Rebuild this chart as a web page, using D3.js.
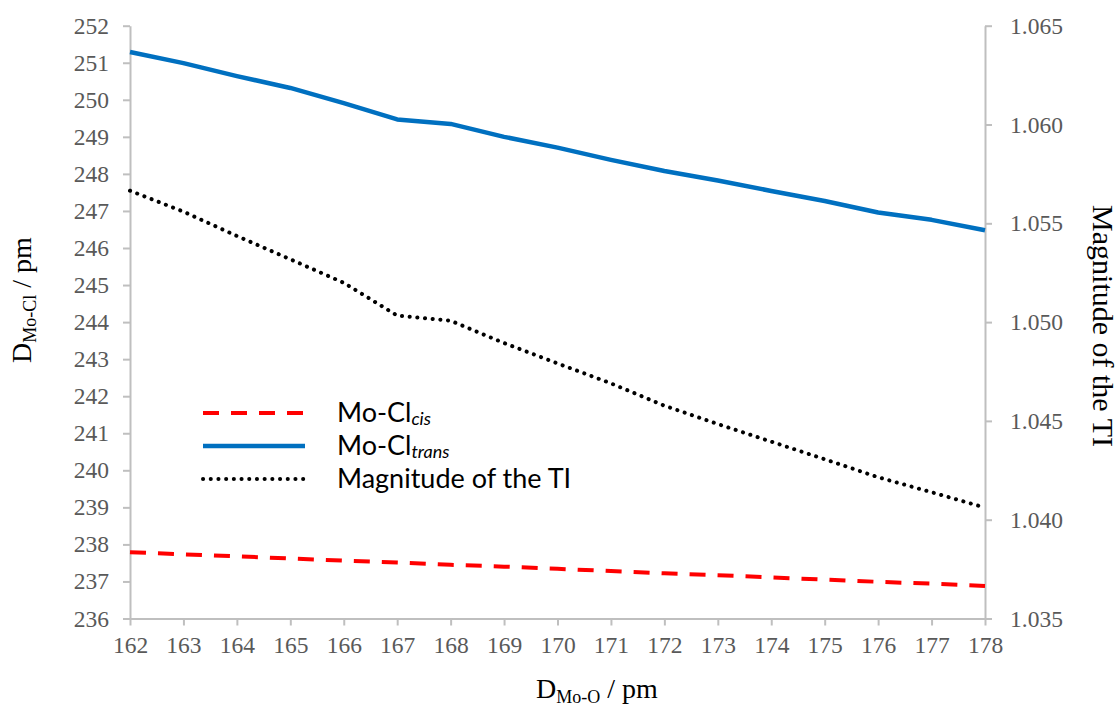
<!DOCTYPE html>
<html>
<head>
<meta charset="utf-8">
<script src="https://cdn.jsdelivr.net/npm/d3@7"></script>
<style>
  html, body { margin: 0; padding: 0; background: #fff; }
  svg { display: block; }
</style>
</head>
<body>
<svg id="chart" width="1120" height="711"></svg>
<script>
// ---- data ----
const distMoO = [162,163,164,165,166,167,168,169,170,171,172,173,174,175,176,177,178];
const moClCis = [237.79,237.73,237.68,237.62,237.56,237.51,237.45,237.40,237.34,237.28,237.22,237.17,237.11,237.05,236.99,236.94,236.88];
const moClTrans = [251.29,250.99,250.64,250.32,249.91,249.47,249.35,249.00,248.71,248.38,248.08,247.82,247.54,247.27,246.96,246.76,246.48];
const tiMagnitude = [1.05665,1.05559,1.05436,1.05318,1.05199,1.05033,1.05007,1.04894,1.04791,1.04690,1.04577,1.04484,1.04395,1.04306,1.04215,1.04139,1.04061];
const leftTicks = [236,237,238,239,240,241,242,243,244,245,246,247,248,249,250,251,252];
const rightTicks = [1.035,1.040,1.045,1.050,1.055,1.060,1.065];
const xTicks = distMoO;

// ---- layout ----
const svg = d3.select("#chart");
const L = 130, R = 985, T = 25.7, B = 618.5;
const x = d3.scaleLinear().domain([162,178]).range([L,R]);
const yL = d3.scaleLinear().domain([236,252]).range([B,T]);
const yR = d3.scaleLinear().domain([1.035,1.065]).range([B,T]);

const axisColor = "#bfbfbf";
const tickText = "#595959";
const serif = "'Liberation Serif','Times New Roman',serif";

function styleAxis(g) {
  g.selectAll("path").attr("stroke", axisColor).attr("stroke-width", 2);
  g.selectAll("line").attr("stroke", axisColor).attr("stroke-width", 2);
  g.selectAll("text").attr("fill", tickText).attr("font-family", serif).attr("font-size", 23.5);
}

svg.append("g").attr("transform", `translate(0,${B})`)
  .call(d3.axisBottom(x).tickValues(xTicks).tickFormat(d3.format("d")).tickSize(7).tickSizeOuter(0).tickPadding(11))
  .call(styleAxis);

svg.append("g").attr("transform", `translate(${L},0)`)
  .call(d3.axisLeft(yL).tickValues(leftTicks).tickFormat(d3.format("d")).tickSize(7).tickSizeOuter(0).tickPadding(14))
  .call(styleAxis);

svg.append("g").attr("transform", `translate(${R},0)`)
  .call(d3.axisRight(yR).tickValues(rightTicks).tickFormat(d3.format(".3f")).tickSize(7).tickSizeOuter(0).tickPadding(18))
  .call(styleAxis);

// ---- lines ----
const lineL = d3.line().x((d,i) => x(distMoO[i])).y(d => yL(d));
const lineR = d3.line().x((d,i) => x(distMoO[i])).y(d => yR(d));

svg.append("path").datum(moClCis).attr("d", lineL)
  .attr("fill","none").attr("stroke","#ff0000").attr("stroke-width",4)
  .attr("stroke-dasharray","16,12");

svg.append("path").datum(moClTrans).attr("d", lineL)
  .attr("fill","none").attr("stroke","#0070c0").attr("stroke-width",4.5)
  .attr("stroke-linejoin","round");

svg.append("path").datum(tiMagnitude).attr("d", lineR)
  .attr("fill","none").attr("stroke","#000").attr("stroke-width",4)
  .attr("stroke-linecap","round").attr("stroke-dasharray","0.1,7.6");

// ---- axis titles ----
function subTitle(g, main, sub, rest) {
  const t = g.append("text").attr("font-family", serif).attr("font-size", 28).attr("fill","#000")
    .attr("text-anchor","middle");
  t.append("tspan").text(main);
  t.append("tspan").attr("font-size", 18).attr("dy", 5).text(sub);
  t.append("tspan").attr("dy", -5).text(rest);
  return t;
}
subTitle(svg.append("g").attr("transform", `translate(597,698)`), "D", "Mo-O", " / pm");
subTitle(svg.append("g").attr("transform", `translate(31,300) rotate(-90)`), "D", "Mo-Cl", " / pm");

svg.append("text").attr("transform", `translate(1093,326) rotate(90)`)
  .attr("text-anchor","middle").attr("font-family", serif).attr("font-size", 30).attr("fill","#000")
  .text("Magnitude of the TI");

// ---- legend ----
const legendItems = [
  {label:"Mo-Cl", sub:"cis", color:"#ff0000", width:4, dash:"16,12", cap:"butt"},
  {label:"Mo-Cl", sub:"trans", color:"#0070c0", width:4.5, dash:null, cap:"butt"},
  {label:"Magnitude of the TI", sub:"", color:"#000", width:4, dash:"0.1,7.6", cap:"round"}
];
const lg = svg.append("g");
legendItems.forEach((d,i) => {
  const yy = 413 + i*33;
  lg.append("line").attr("x1",203).attr("x2",305).attr("y1",yy).attr("y2",yy)
    .attr("stroke",d.color).attr("stroke-width",d.width)
    .attr("stroke-dasharray",d.dash).attr("stroke-linecap",d.cap);
  const t = lg.append("text").attr("x",337).attr("y",yy+9)
    .attr("font-family","Lato,'Open Sans',sans-serif").attr("font-size",27).attr("fill","#000");
  t.append("tspan").text(d.label);
  if (d.sub) t.append("tspan").attr("font-size",18).attr("font-style","italic").attr("dy",3).text(d.sub);
});
</script>
</body>
</html>
